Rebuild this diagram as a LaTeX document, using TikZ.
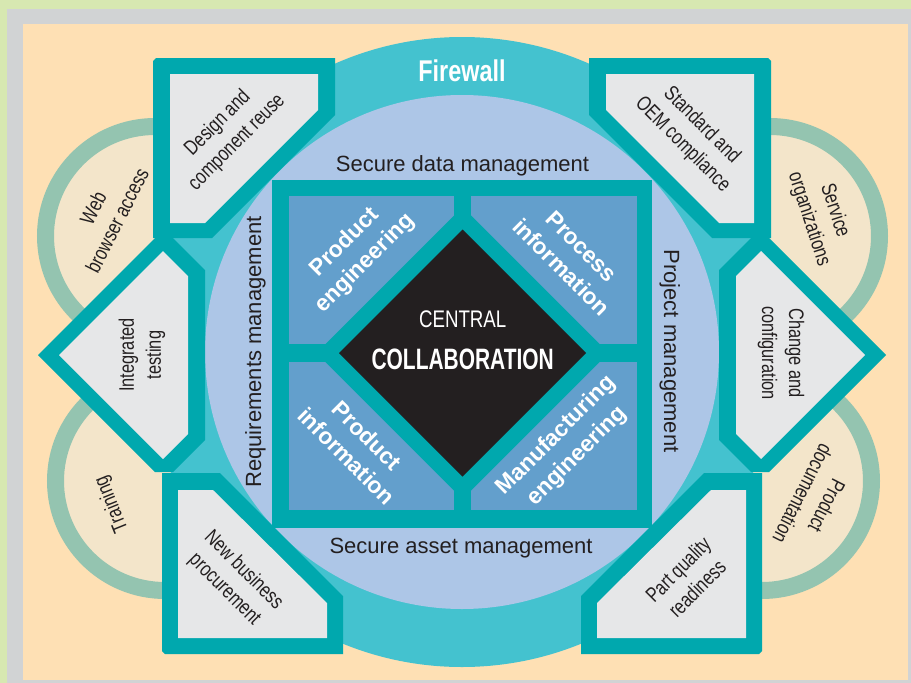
\documentclass[tikz,border=0pt]{standalone}
\usepackage{fontspec}
\setmainfont{Liberation Sans}
\newfontfamily\arial{Liberation Sans}
\newfontfamily\cond[FakeStretch=0.78]{Liberation Sans}
\newfontfamily\ccond[FakeStretch=0.71]{Liberation Sans}
\definecolor{bggreen}{HTML}{D7E8B1}
\definecolor{bggray}{HTML}{D1D3D4}
\definecolor{peach}{HTML}{FEE0B4}
\definecolor{sage}{HTML}{94C4B0}
\definecolor{cream}{HTML}{F3E5CA}
\definecolor{teal}{HTML}{00A8AE}
\definecolor{lteal}{HTML}{44C2CF}
\definecolor{lblue}{HTML}{ADC6E7}
\definecolor{qblue}{HTML}{639FCC}
\definecolor{boxg}{HTML}{E6E7E8}
\definecolor{dk}{HTML}{231F20}
\tikzset{
  ring/.style={draw=sage, line width=17pt, fill=cream},
  boxouter/.style={fill=teal},
  boxinner/.style={fill=boxg},
  quad/.style={fill=qblue},
  boxtext/.style={font=\cond\fontsize{21}{27}\selectfont, text=dk, align=center, inner sep=0pt},
  quadtext/.style={font=\arial\bfseries\fontsize{23}{29}\selectfont, text=white, align=center, inner sep=0pt},
  mgmt/.style={font=\arial\fontsize{22}{26}\selectfont, text=dk, inner sep=0pt, anchor=base},
}
\begin{document}
\begin{tikzpicture}[x=1pt,y=-1pt]
\useasboundingbox (0,0) rectangle (911,683);
% background
\fill[bggreen] (0,0) rectangle (911,683);
\fill[bggray] (7,9) rectangle (911,683);
\fill[peach] (23,24) rectangle (908,680);
% outer circles
\draw[ring] (155,236) circle (109.5pt);
\draw[ring] (165,481) circle (109.5pt);
\draw[ring] (770,236) circle (109.5pt);
\draw[ring] (762,481) circle (109.5pt);
% firewall and secure circles
\fill[lteal] (462,352) circle (315pt);
\fill[lblue] (462,352) circle (257pt);
% top-left box
\fill[boxouter] (156,58) -- (335,58) -- (335,115) -- (212,238) -- (153,238) -- (153,61) -- cycle;
\fill[boxinner] (170,74) -- (318,74) -- (318,110) -- (205,223) -- (170,223) -- cycle;
% top-right box
\fill[boxouter] (768,58) -- (589,58) -- (589,115) -- (712,238) -- (771,238) -- (771,61) -- cycle;
\fill[boxinner] (754,74) -- (606,74) -- (606,110) -- (719,223) -- (754,223) -- cycle;
% left box
\fill[boxouter] (38,355) -- (155,238) -- (173,238) -- (205,270) -- (205,440) -- (173,472) -- (155,472) -- cycle;
\fill[boxinner] (59,355) -- (163,251) -- (188,276) -- (188,434) -- (163,459) -- cycle;
% right box
\fill[boxouter] (886,355) -- (769,238) -- (751,238) -- (719,270) -- (719,440) -- (751,472) -- (769,472) -- cycle;
\fill[boxinner] (865,355) -- (761,251) -- (736,276) -- (736,434) -- (761,459) -- cycle;
% bottom-left box
\fill[boxouter] (162,473) -- (220,473) -- (343,596) -- (343,654) -- (165,654) -- (162,651) -- cycle;
\fill[boxinner] (178,490) -- (213,490) -- (327,603) -- (327,638) -- (178,638) -- cycle;
% bottom-right box
\fill[boxouter] (762,473) -- (704,473) -- (581,596) -- (581,654) -- (759,654) -- (762,651) -- cycle;
\fill[boxinner] (746,490) -- (711,490) -- (597,603) -- (597,638) -- (746,638) -- cycle;
% central square
\fill[teal] (272,180) rectangle (652,528);
\fill[quad] (289,196) rectangle (454,344);
\fill[quad] (471,196) rectangle (637,344);
\fill[quad] (289,362) rectangle (454,510);
\fill[quad] (471,362) rectangle (637,510);
\fill[teal] (462.5,207) -- (608.5,353) -- (462.5,499) -- (316.5,353) -- cycle;
\fill[dk] (462.5,229.5) -- (586,353) -- (462.5,476.5) -- (339,353) -- cycle;
% texts
\node[font=\cond\bfseries\fontsize{30}{32}\selectfont, text=white, anchor=base, inner sep=0pt] (fw) at (462,81.5) {Firewall};
\node[mgmt] (sdm) at (462.5,171) {Secure data management};
\node[mgmt] (sam) at (461,553) {Secure asset management};
\node[mgmt, rotate=90] (rm) at (261,352) {Requirements management};
\node[mgmt, rotate=-90] (pm) at (664,351) {Project management};
\node[font=\cond\fontsize{24}{26}\selectfont, text=white, anchor=base, inner sep=0pt] (central) at (462.7,327.3) {CENTRAL};
\node[font=\ccond\bfseries\fontsize{29.5}{31}\selectfont, text=white, anchor=base, inner sep=0pt] (collab) at (462.7,369.3) {COLLABORATION};
\node[quadtext, rotate=45] (pe) at (355,253) {Product\\engineering};
\node[quadtext, rotate=-45] (pi) at (571.5,257) {Process\\information};
\node[quadtext, rotate=-45] (pinf) at (357,446) {Product\\information};
\node[quadtext, rotate=45] (me) at (566.7,446) {Manufacturing\\engineering};
\node[boxtext, rotate=45] (dcr) at (227.5,133) {Design and\\component reuse};
\node[boxtext, rotate=-45] (std) at (692,135) {Standard and\\OEM compliance};
\node[boxtext, rotate=90] (it) at (142,355) {Integrated\\testing};
\node[boxtext, rotate=-90] (cc) at (781,353) {Change and\\configuration};
\node[boxtext, rotate=-45] (nbp) at (234,580) {New business\\procurement};
\node[boxtext, rotate=45] (pqr) at (687.5,579) {Part quality\\readiness};
\node[boxtext, rotate=63] (wba) at (105,214) {Web\\browser access};
\node[boxtext, rotate=112] (tr) at (112,504) {Training};
\node[boxtext, rotate=-72] (so) at (821.7,215) {Service\\organizations};
\node[boxtext, rotate=-117] (pd) at (815,500) {Product\\documentation};
\end{tikzpicture}
\end{document}
